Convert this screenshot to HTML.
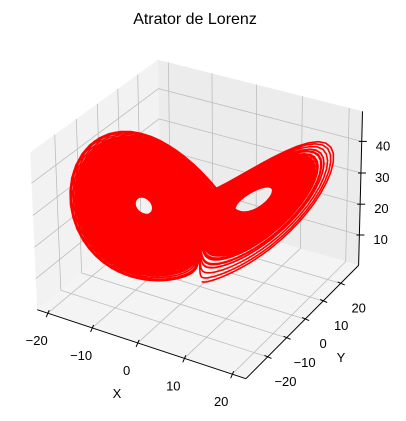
<!DOCTYPE html>
<html><head><meta charset="utf-8"><style>
html,body{margin:0;padding:0;background:#fff;}
svg{display:block;font-family:"Liberation Sans","DejaVu Sans",sans-serif;}
</style></head><body>
<svg id="chart" width="406" height="421" viewBox="0 0 406 421">
<text x="195" y="24" font-size="16" text-anchor="middle" fill="#000">Atrator de Lorenz</text>
<g id="panes"></g>
<g id="grid"></g>
<g id="series"></g>
<g id="axes"></g>
<g id="labels"></g>
</svg>
<script>
// Lorenz system parameters and initial state
const params = [10, 28, 8/3];           // sigma, rho, beta
const initialState = [0.0, 1.0, 1.05];
const stepCount = 40000;
const stepSize = 0.01;
// Axis ticks
const xTicks = [-20, -10, 0, 10, 20];
const yTicks = [-20, -10, 0, 10, 20];
const zTicks = [10, 20, 30, 40];
const xLim = [-22.4, 22.8];
const yLim = [-31, 30.5];
const zLim = [0, 49.4];

const NS = "http://www.w3.org/2000/svg";
const [x0, x1] = xLim, [y0, y1] = yLim, [z0, z1] = zLim;

const calib = [
  [[-20, y0, z0], [48, 313]], [[20, y0, z0], [233, 375]],
  [[x1, -20, z0], [267, 357]], [[x1, 20, z0], [338, 284]],
  [[x1, y1, 10], [362, 234]], [[x1, y1, 40], [362, 141]],
  [[x0, y0, z0], [37, 310]], [[x0, y1, z1], [158, 60]], [[x0, y0, z1], [30, 152]],
  [[x1, y0, z0], [246, 378]], [[x1, y1, z1], [362, 112]]
];
function solveDLT() {
  const A = [], b = [];
  calib.forEach(([[X, Y, Z], [u, v]]) => {
    A.push([X, Y, Z, 1, 0, 0, 0, 0, -u*X, -u*Y, -u*Z]); b.push(u);
    A.push([0, 0, 0, 0, X, Y, Z, 1, -v*X, -v*Y, -v*Z]); b.push(v);
  });
  const n = 11, M = [];
  for (let i = 0; i < n; i++) {
    M.push([]);
    for (let j = 0; j < n; j++) { let s = 0; for (let k = 0; k < A.length; k++) s += A[k][i]*A[k][j]; M[i].push(s); }
    let s = 0; for (let k = 0; k < A.length; k++) s += A[k][i]*b[k]; M[i].push(s);
  }
  for (let c = 0; c < n; c++) {
    let piv = c; for (let r = c+1; r < n; r++) if (Math.abs(M[r][c]) > Math.abs(M[piv][c])) piv = r;
    [M[c], M[piv]] = [M[piv], M[c]];
    for (let r = 0; r < n; r++) if (r !== c) { const f = M[r][c]/M[c][c]; for (let j = c; j <= n; j++) M[r][j] -= f*M[c][j]; }
  }
  return M.map((row, i) => row[n]/row[i]);
}
const H = solveDLT();
function P(X, Y, Z) {
  const w = H[8]*X + H[9]*Y + H[10]*Z + 1;
  return [(H[0]*X + H[1]*Y + H[2]*Z + H[3])/w, (H[4]*X + H[5]*Y + H[6]*Z + H[7])/w];
}
function el(tag, attrs, parent) { const e = document.createElementNS(NS, tag); for (const k in attrs) e.setAttribute(k, attrs[k]); parent.appendChild(e); return e; }
function poly(pts) { return pts.map(p => p[0].toFixed(1) + "," + p[1].toFixed(1)).join(" "); }

const panes = document.getElementById("panes");
let e;
e = el("polygon", {points: poly([P(x0,y0,z0),P(x0,y1,z0),P(x0,y1,z1),P(x0,y0,z1)]), fill: "#f2f2f2"}, panes);


e = el("polygon", {points: poly([P(x0,y1,z0),P(x1,y1,z0),P(x1,y1,z1),P(x0,y1,z1)]), fill: "#ececec"}, panes);


e = el("polygon", {points: poly([P(x0,y0,z0),P(x1,y0,z0),P(x1,y1,z0),P(x0,y1,z0)]), fill: "#f4f4f4"}, panes);



const grid = document.getElementById("grid");
function gl(a, b) {
  const g = el("polyline", {points: poly([a, b]), stroke: "#bdbdbd", "stroke-width": 0.8, fill: "none"}, grid);
  
  
}
xTicks.forEach(x => { gl(P(x,y0,z0), P(x,y1,z0)); gl(P(x,y1,z0), P(x,y1,z1)); });
yTicks.forEach(y => { gl(P(x1,y,z0), P(x0,y,z0)); gl(P(x0,y,z0), P(x0,y,z1)); });
zTicks.forEach(z => { gl(P(x0,y0,z), P(x0,y1,z)); gl(P(x0,y1,z), P(x1,y1,z)); });

function deriv(s) {
  return [params[0]*(s[1]-s[0]), s[0]*(params[1]-s[2]) - s[1], s[0]*s[1] - params[2]*s[2]];
}
const pts = [];
let s = initialState.slice();
pts.push(P(s[0], s[1], s[2]));
for (let i = 0; i < stepCount; i++) {
  const h = stepSize;
  const k1 = deriv(s);
  const k2 = deriv(s.map((v, j) => v + h/2*k1[j]));
  const k3 = deriv(s.map((v, j) => v + h/2*k2[j]));
  const k4 = deriv(s.map((v, j) => v + h*k3[j]));
  s = s.map((v, j) => v + h/6*(k1[j] + 2*k2[j] + 2*k3[j] + k4[j]));
  pts.push(P(s[0], s[1], s[2]));
}
const line = el("polyline", {points: poly(pts), stroke: "#ff0000", "stroke-width": 1.6, fill: "none", "stroke-linejoin": "round"}, document.getElementById("series"));



const axes = document.getElementById("axes");
function axl(a, b, name) {
  const g = el("polyline", {points: poly([a, b]), stroke: "#000", "stroke-width": 1, fill: "none"}, axes);
  
  
}
axl(P(x0,y0,z0), P(x1,y0,z0), "x-axis-line");
axl(P(x1,y0,z0), P(x1,y1,z0), "y-axis-line");
axl(P(x1,y1,z0), P(x1,y1,z1), "z-axis-line");

const labels = document.getElementById("labels");
function txt(str, p, name, anchor) {
  const t = el("text", {x: p[0].toFixed(1), y: p[1].toFixed(1), "font-size": 13, "text-anchor": anchor || "middle", fill: "#000"}, labels);
  t.textContent = str;
  
  
}
function fmt(v) { return v < 0 ? "\u2212" + Math.abs(v) : String(v); }
xTicks.forEach(v => {
  const p = P(v, y0, z0);
  axl([p[0]+1.5, p[1]-3], [p[0]-1.5, p[1]+4], "x-tick");
  txt(fmt(v), [p[0]-11, p[1]+32], "x-tick-label");
});
yTicks.forEach(v => {
  const p = P(x1, v, z0);
  axl([p[0]-3, p[1]-1.5], [p[0]+4, p[1]+1.5], "y-tick");
  txt(fmt(v), [p[0]+18, p[1]+29], "y-tick-label");
});
zTicks.forEach(v => {
  const p = P(x1, y1, v);
  axl([p[0]-3, p[1]], [p[0]+5, p[1]], "z-tick");
  txt(fmt(v), [p[0]+14, p[1]+9], "z-tick-label", "start");
});
txt("X", [117, 398], "x-axis-title");
txt("Y", [341, 362], "y-axis-title");
</script>
</body></html>
